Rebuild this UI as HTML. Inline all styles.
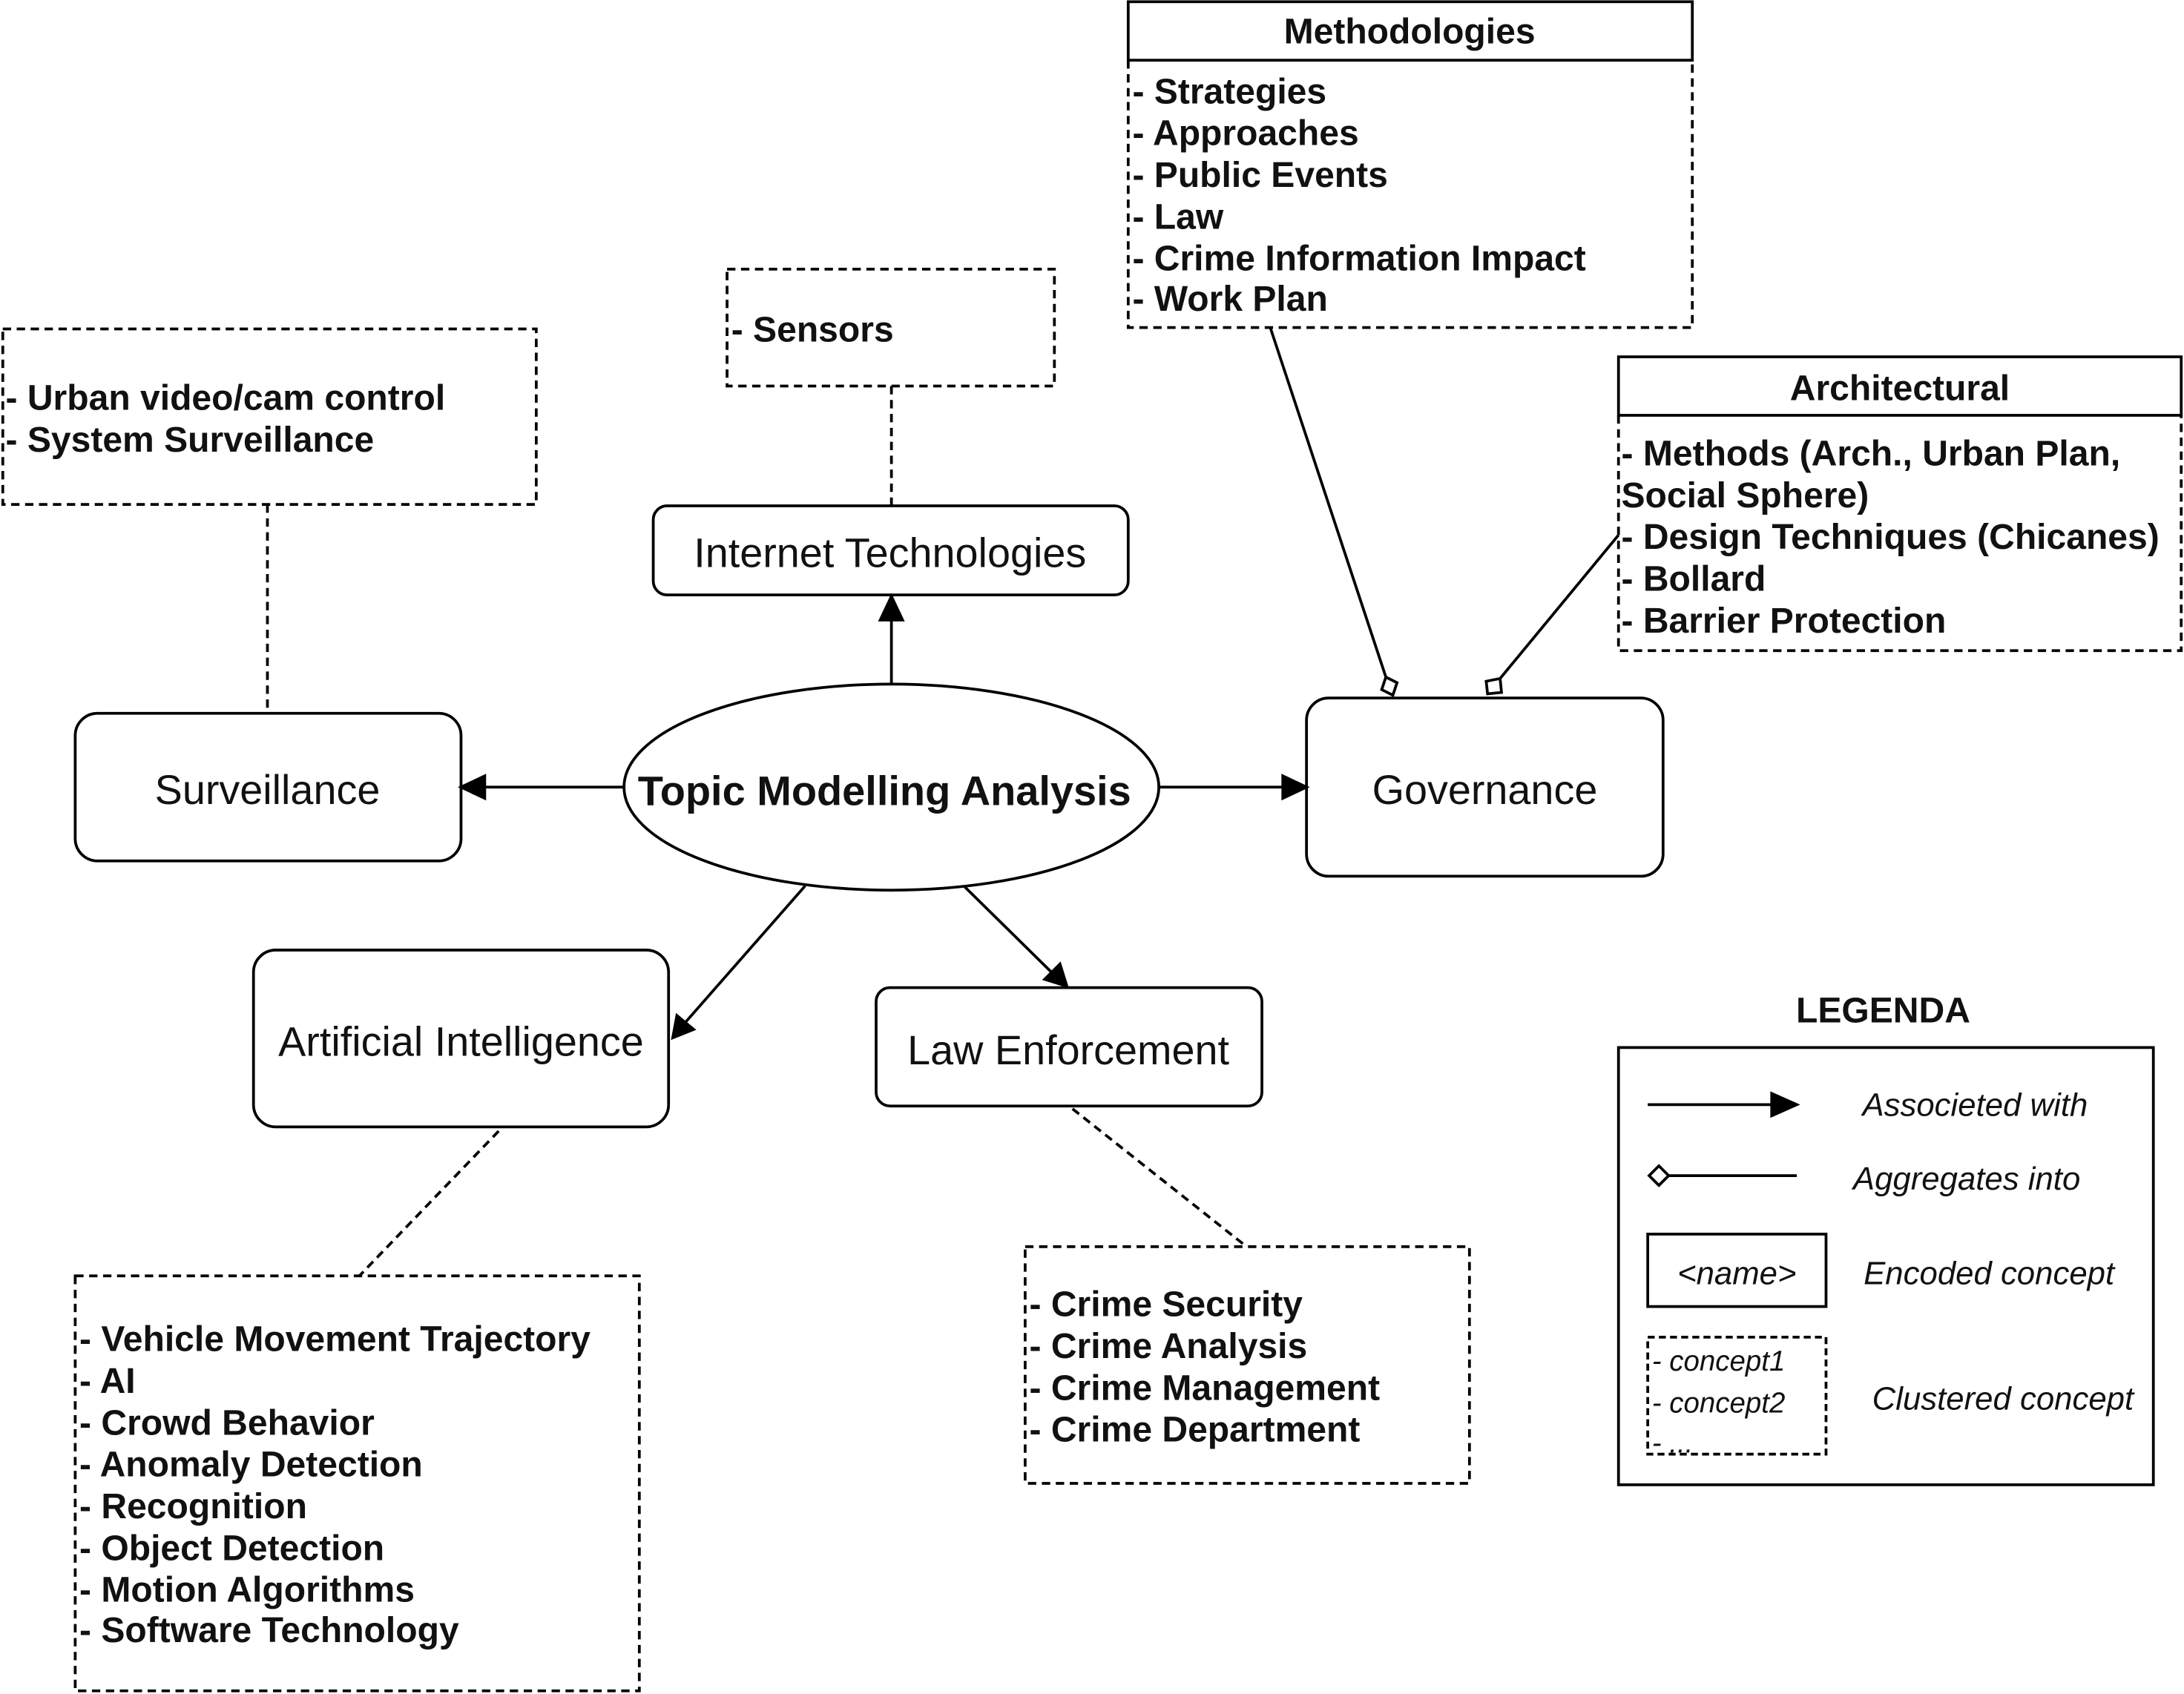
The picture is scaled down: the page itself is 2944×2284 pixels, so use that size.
<!DOCTYPE html>
<html><head><meta charset="utf-8">
<style>
html,body{margin:0;padding:0;background:#fff;}
svg{display:block;}
text{font-family:"Liberation Sans",Arial,sans-serif;fill:#111;}
.b{font-weight:bold;font-size:25.6px;}
.n{font-size:29.7px;}
.i{font-style:italic;font-size:23.3px;}
</style></head><body>
<svg width="2944" height="2284" viewBox="0 0 1568 1216" xmlns="http://www.w3.org/2000/svg">
<g fill="none" stroke="#000" stroke-width="2">
<rect x="810" y="1" width="405" height="42" fill="#fff"/>
<path d="M810,43 V235 H1215 V43" stroke-dasharray="6,4"/>
<rect x="1162" y="256" width="404" height="42"/>
<path d="M1162,298 V467 H1566 V298" stroke-dasharray="6,4"/>
<rect x="522" y="193" width="235" height="84" stroke-dasharray="6,4"/>
<rect x="2" y="236" width="383" height="126" stroke-dasharray="6,4"/>
<rect x="54" y="916" width="405" height="298" stroke-dasharray="6,4"/>
<rect x="736" y="895" width="319" height="170" stroke-dasharray="6,4"/>
<rect x="469" y="363" width="341" height="64" rx="10"/>
<rect x="54" y="512" width="277" height="106" rx="16"/>
<rect x="938" y="501" width="256" height="128" rx="16"/>
<rect x="182" y="682" width="298" height="127" rx="16"/>
<rect x="629" y="709" width="277" height="85" rx="10"/>
<ellipse cx="640" cy="565" rx="192" ry="74"/>
<path d="M640,277 V363 M192,362 V512 M358,812 L258,916 M770,796 L895,895" stroke-dasharray="6,4"/>
<path d="M640,490 V443"/><path d="M632,445 L640,428 L648,445 z" fill="#000"/>
<path d="M448,565 H348"/><path d="M348,557 L331,565 L348,573 z" fill="#000"/>
<path d="M832,565 H922"/><path d="M921,557 L938,565 L921,573 z" fill="#000"/>
<path d="M578,636 L492,734"/><path d="M486,729 L483,745 L498,739 z" fill="#000"/>
<path d="M692,636 L755,698"/><path d="M750,703 L766,708 L761,692 z" fill="#000"/>
<path d="M912,235 L995,486"/><path d="M995,486 L1003,490 L1000,499 L992,495 z" fill="#fff"/>
<path d="M1162,384 L1077,487"/><path d="M1077,487 L1078,497 L1068,498 L1067,489 z" fill="#fff"/>
<rect x="1162" y="752" width="384" height="314"/>
<path d="M1183,793 H1272"/><path d="M1272,785 L1290,793 L1272,801 z" fill="#000"/>
<path d="M1198,844 H1290"/><path d="M1184,844 L1191,837 L1198,844 L1191,851 z" fill="#fff"/>
<rect x="1183" y="886" width="128" height="52"/>
<rect x="1183" y="960" width="128" height="84" stroke-dasharray="5,3"/>
</g>
<text x="1012" y="31" text-anchor="middle" class="b">Methodologies</text>
<g class="b">
<text x="813" y="74">- Strategies</text>
<text x="813" y="104">- Approaches</text>
<text x="813" y="134">- Public Events</text>
<text x="813" y="164">- Law</text>
<text x="813" y="194">- Crime Information Impact</text>
<text x="813" y="223">- Work Plan</text>
<text x="1364" y="287" text-anchor="middle">Architectural</text>
<text x="1164" y="334">- Methods (Arch., Urban Plan,</text>
<text x="1164" y="364">Social Sphere)</text>
<text x="1164" y="394">- Design Techniques (Chicanes)</text>
<text x="1164" y="424">- Bollard</text>
<text x="1164" y="454">- Barrier Protection</text>
<text x="525" y="245">- Sensors</text>
<text x="4" y="294">- Urban video/cam control</text>
<text x="4" y="324">- System Surveillance</text>
<text x="57" y="970">- Vehicle Movement Trajectory</text>
<text x="57" y="1000">- AI</text>
<text x="57" y="1030">- Crowd Behavior</text>
<text x="57" y="1060">- Anomaly Detection</text>
<text x="57" y="1090">- Recognition</text>
<text x="57" y="1120">- Object Detection</text>
<text x="57" y="1150">- Motion Algorithms</text>
<text x="57" y="1179">- Software Technology</text>
<text x="739" y="945">- Crime Security</text>
<text x="739" y="975">- Crime Analysis</text>
<text x="739" y="1005">- Crime Management</text>
<text x="739" y="1035">- Crime Department</text>
<text x="1352" y="734" text-anchor="middle">LEGENDA</text>
</g>
<g class="n" text-anchor="middle">
<text x="639" y="407">Internet Technologies</text>
<text x="192" y="577">Surveillance</text>
<text x="1066" y="577">Governance</text>
<text x="331" y="758">Artificial Intelligence</text>
<text x="767" y="764">Law Enforcement</text>
</g>
<text x="635" y="578" text-anchor="middle" font-weight="bold" font-size="29.8">Topic Modelling Analysis</text>
<g class="i" text-anchor="middle">
<text x="1418" y="801">Associeted with</text>
<text x="1412" y="854">Aggregates into</text>
<text x="1247" y="922">&lt;name&gt;</text>
<text x="1428" y="922">Encoded concept</text>
<text x="1438" y="1012">Clustered concept</text>
</g>
<g font-style="italic" font-size="20.5">
<text x="1186" y="984">- concept1</text>
<text x="1186" y="1014">- concept2</text>
<text x="1186" y="1043">- ...</text>
</g>
</svg>
</body></html>
